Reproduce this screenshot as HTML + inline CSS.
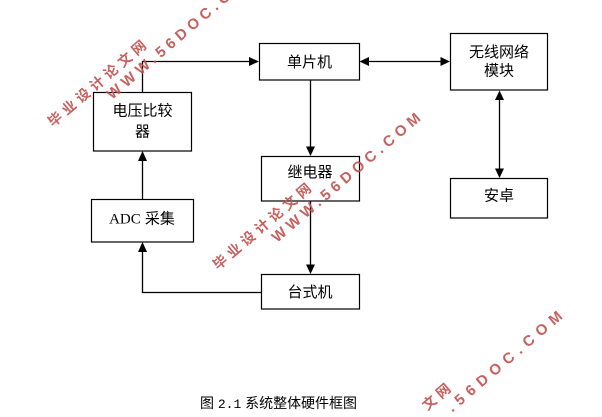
<!DOCTYPE html>
<html>
<head>
<meta charset="utf-8">
<style>
html,body{margin:0;padding:0;background:#fff;width:602px;height:417px;overflow:hidden;}
svg{display:block;}
</style>
</head>
<body>
<svg width="602" height="417" viewBox="0 0 602 417" xmlns="http://www.w3.org/2000/svg" overflow="hidden">
  <rect x="0" y="0" width="602" height="417" fill="#fff"/>

  <!-- Boxes -->
  <g fill="#fff" stroke="#000" stroke-width="1.2">
    <rect x="93.5" y="92.5" width="98" height="58.5"/>
    <rect x="259.5" y="43.5" width="100" height="36.5"/>
    <rect x="261.5" y="156.5" width="98" height="44.5"/>
    <rect x="450.5" y="33.5" width="97" height="56.5"/>
    <rect x="450.5" y="178.5" width="97" height="39.5"/>
    <rect x="91.5" y="199.5" width="102" height="42.5"/>
    <rect x="261.5" y="274.5" width="98" height="34.5"/>
  </g>

  <!-- Connectors -->
  <g fill="none" stroke="#000" stroke-width="1.3">
    <line x1="142.5" y1="199" x2="142.5" y2="160"/>
    <polyline points="142.5,92 142.5,61.5 251,61.5"/>
    <line x1="367" y1="61.5" x2="442" y2="61.5"/>
    <line x1="310.5" y1="80" x2="310.5" y2="148"/>
    <line x1="499.5" y1="98" x2="499.5" y2="170"/>
    <line x1="310.5" y1="201" x2="310.5" y2="266"/>
    <polyline points="261,292.5 142.5,292.5 142.5,251"/>
  </g>

  <!-- Arrowheads -->
  <g fill="#000" stroke="none">
    <polygon points="142.5,151 138,161 147,161"/>
    <polygon points="259,61.5 249,57 249,66"/>
    <polygon points="359.5,61.5 369,57 369,66"/>
    <polygon points="450,61.5 440.5,57 440.5,66"/>
    <polygon points="310.5,156 306,146.5 315,146.5"/>
    <polygon points="499.5,90.5 495,100 504,100"/>
    <polygon points="499.5,178 495,168.5 504,168.5"/>
    <polygon points="310.5,274 306,264.5 315,264.5"/>
    <polygon points="142.5,242 138,252 147,252"/>
  </g>

  <!-- Box labels -->
  <g font-family="'Liberation Sans','Noto Sans CJK SC',sans-serif" font-size="15" fill="#000" text-anchor="middle">
    <text x="142.5" y="115.5">电压比较</text>
    <text x="142.5" y="136.5">器</text>
    <text x="309.5" y="67">单片机</text>
    <text x="310" y="177">继电器</text>
    <text x="499" y="57">无线网络</text>
    <text x="499" y="75.5">模块</text>
    <text x="499" y="200.5">安卓</text>
    <text x="310" y="297">台式机</text>
    <text x="142" y="223.5"><tspan font-family="'Liberation Serif',serif">ADC</tspan> 采集</text>
  </g>

  <!-- Caption -->
  <text x="200" y="408" font-family="'Liberation Sans','Noto Sans CJK SC',sans-serif" font-size="14" fill="#000" textLength="157" lengthAdjust="spacing">图 <tspan font-family="'Liberation Mono',monospace" font-size="13">2.1</tspan> 系统整体硬件框图</text>

  <!-- Watermarks -->
  <g fill="#c0504d" fill-opacity="0.9" font-weight="bold">
    <text x="0" y="0" transform="translate(218,270.5) rotate(-40.5)" font-family="'Noto Sans CJK SC',sans-serif" font-size="14" textLength="124" lengthAdjust="spacing">毕业设计论文网</text>
    <text x="0" y="0" transform="translate(277,243) rotate(-40.5)" font-family="'Liberation Sans',sans-serif" font-size="15" textLength="190" lengthAdjust="spacing">WWW.56DOC.COM</text>
  </g>
  <g transform="translate(-165,-143)" fill="#c0504d" fill-opacity="0.9" font-weight="bold">
    <text x="0" y="0" transform="translate(218,270.5) rotate(-40.5)" font-family="'Noto Sans CJK SC',sans-serif" font-size="14" textLength="124" lengthAdjust="spacing">毕业设计论文网</text>
    <text x="0" y="0" transform="translate(277,243) rotate(-40.5)" font-family="'Liberation Sans',sans-serif" font-size="15" textLength="190" lengthAdjust="spacing">WWW.56DOC.COM</text>
  </g>
  <!-- third watermark: only the portion inside the frame -->
  <g fill="#c0504d" fill-opacity="0.9" font-weight="bold">
    <text x="0" y="0" transform="translate(427.4,411) rotate(-40.5)" font-family="'Noto Sans CJK SC',sans-serif" font-size="14" textLength="32" lengthAdjust="spacing">文网</text>
    <text x="0" y="0" transform="translate(452.3,412.6) rotate(-40.5)" font-family="'Liberation Sans',sans-serif" font-size="15" textLength="146" lengthAdjust="spacing">.56DOC.COM</text>
  </g>
</svg>
</body>
</html>
